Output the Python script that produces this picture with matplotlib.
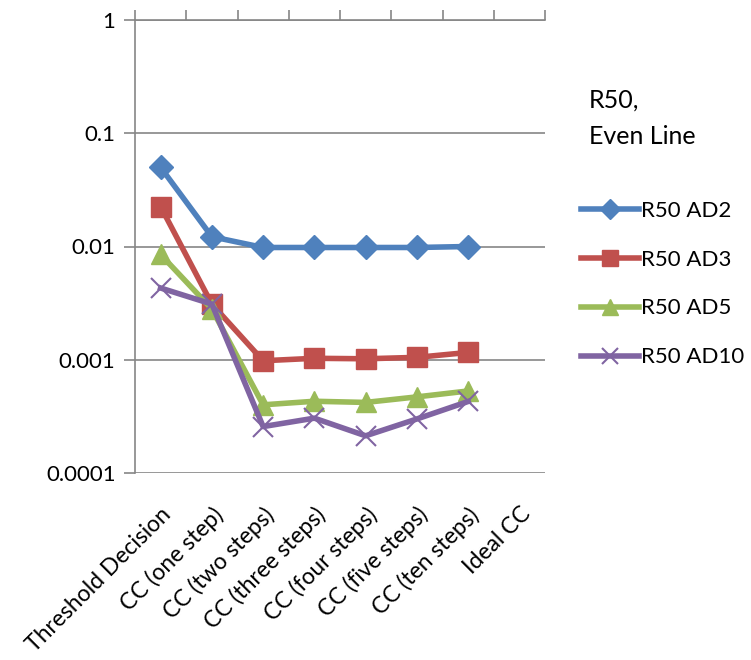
import numpy as np
import matplotlib.pyplot as plt

plt.rcParams['font.family'] = ['Lato', 'DejaVu Sans']

categories = ['Threshold Decision', 'CC (one step)', 'CC (two steps)', 'CC (three steps)',
              'CC (four steps)', 'CC (five steps)', 'CC (ten steps)', 'Ideal CC']

ad2 = [0.050, 0.0122, 0.0098, 0.0098, 0.0098, 0.0098, 0.0100, np.nan]
ad3 = [0.0225, 0.0031, 0.00098, 0.00103, 0.00102, 0.00105, 0.00116, np.nan]
ad5 = [0.0085, 0.0028, 0.00040, 0.00043, 0.00042, 0.00047, 0.00053, np.nan]
ad10 = [0.0043, 0.0031, 0.000257, 0.000305, 0.000213, 0.000300, 0.000428, np.nan]

series = [
    ('R50 AD2', ad2, '#4F81BD', 'D', 12.5),
    ('R50 AD3', ad3, '#C0504D', 's', 14),
    ('R50 AD5', ad5, '#9BBB59', '^', 14),
    ('R50 AD10', ad10, '#8064A2', 'x', 14),
]

GRID = '#868686'

fig = plt.figure(figsize=(7.51, 6.6), dpi=100)
ax = fig.add_axes([135 / 751, 1 - 473 / 660, 410 / 751, 453 / 660])

x = np.arange(len(categories))
for label, vals, color, marker, ms in series:
    mew = 1.5 if marker == 'x' else 1
    ax.plot(x, vals, color=color, lw=4, marker=marker, ms=ms, mew=mew,
            mec=color, mfc=color, label=label, solid_joinstyle='round', clip_on=False)

ax.set_yscale('log')
ax.set_ylim(0.0001, 1)
ax.set_xlim(-0.5, len(categories) - 0.5)
yt = [1, 0.1, 0.01, 0.001, 0.0001]
ax.set_yticks(yt)
ax.set_yticklabels(['1', '0.1', '0.01', '0.001', '0.0001'], fontsize=16)
ax.yaxis.set_minor_locator(plt.NullLocator())
ax.grid(axis='y', color=GRID, lw=1.2)
ax.set_axisbelow(True)
ax.tick_params(axis='y', direction='out', length=8, color=GRID, width=1.2, pad=6)

# category labels at bottom, boundary ticks on the top axis line
ax.set_xticks(x)
ax.set_xticklabels(categories, rotation=45, ha='right', va='top', rotation_mode='anchor',
                   fontsize=16.5)
ax.set_xticks(np.arange(len(categories) + 1) - 0.5, minor=True)
ax.tick_params(axis='x', which='major', bottom=True, top=False, length=0, pad=22)
ax.tick_params(axis='x', which='minor', bottom=False, top=True, direction='out',
               length=7, color=GRID, width=1.2)

for s in ['right', 'bottom']:
    ax.spines[s].set_visible(False)
ax.spines['left'].set_color(GRID)
ax.spines['left'].set_linewidth(1.2)
ax.spines['top'].set_color(GRID)
ax.spines['top'].set_linewidth(1.2)

fig.text(589 / 751, 1 - 100 / 660, 'R50,', fontsize=18, va='center', ha='left')
fig.text(589 / 751, 1 - 136 / 660, 'Even Line', fontsize=18, va='center', ha='left')

fig.legend(loc='center left', bbox_to_anchor=(581 / 751, 1 - 284 / 660), frameon=False,
           fontsize=16, handlelength=2.6, labelspacing=1.3, handletextpad=0.1,
           borderaxespad=0, borderpad=0, markerscale=0.8)

fig.savefig('out.png', dpi=100)
